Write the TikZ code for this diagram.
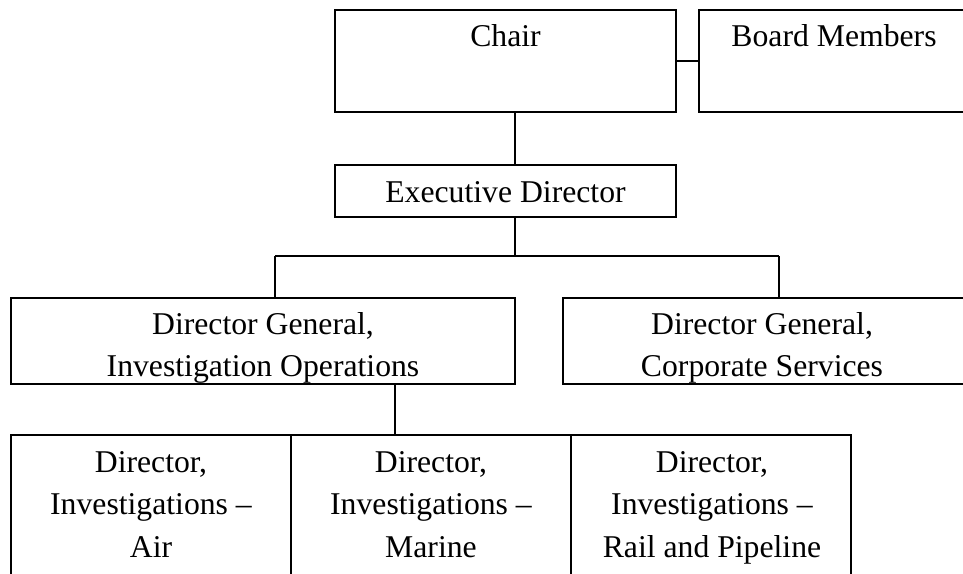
\documentclass[tikz,border=0pt]{standalone}
\usepackage{fontspec}
\setmainfont{Liberation Serif}
\begin{document}
\begin{tikzpicture}[x=1pt,y=-1pt,
  box/.style={draw, line width=1.9pt, inner sep=0pt, rectangle},
  lbl/.style={inner sep=0pt, anchor=north, align=center,
    font=\fontsize{31.7}{42.5}\selectfont},
  conn/.style={line width=1.9pt}]
\useasboundingbox (0,0) rectangle (963,573);
\begin{scope}
\clip (0,0) rectangle (963,573);
% boxes
\node[box, minimum width=341pt, minimum height=102pt] (chair) at (505.5,61) {};
\node[box, minimum width=270pt, minimum height=102pt] (board) at (834,61) {};
\node[box, minimum width=341pt, minimum height=52pt] (exec) at (505.5,191) {};
\node[box, minimum width=504pt, minimum height=86pt] (dgio) at (263,341) {};
\node[box, minimum width=420pt, minimum height=86pt] (dgcs) at (773,341) {};
\node[box, minimum width=280pt, minimum height=170pt] (air) at (151,520) {};
\node[box, minimum width=280pt, minimum height=170pt] (marine) at (431,520) {};
\node[box, minimum width=280pt, minimum height=170pt] (rail) at (711,520) {};
% texts
\node[lbl] (tchair) at (505.5,24) {Chair};
\node[lbl] (tboard) at (834,24) {Board Members};
\node[lbl] (texec) at (505.5,181) {Executive Director};
\node[lbl] (tdgio) at (263,312) {Director General,\\Investigation Operations};
\node[lbl] (tdgcs) at (762,312) {Director General,\\Corporate Services};
\node[lbl] (tair) at (151,451) {Director,\\Investigations --\\Air};
\node[lbl] (tmarine) at (431,451) {Director,\\Investigations --\\Marine};
\node[lbl] (trail) at (712,451) {Director,\\Investigations --\\Rail and Pipeline};
% connectors
\draw[conn] (chair.east) -- (board.west);
\draw[conn] ([xshift=9.5pt]chair.south) -- ([xshift=9.5pt]exec.north);
\coordinate (busL) at (275,256);
\coordinate (busR) at (779,256);
\draw[conn] ([xshift=9.5pt]exec.south) -- ([xshift=9.5pt]exec.south |- busL);
\draw[conn] (busL) -- (busR);
\draw[conn] (busL) -- (busL |- dgio.north);
\draw[conn] (busR) -- (busR |- dgcs.north);
\coordinate (dn) at (395,0);
\draw[conn] (dn |- dgio.south) -- (dn |- air.north);
\end{scope}
\end{tikzpicture}
\end{document}
